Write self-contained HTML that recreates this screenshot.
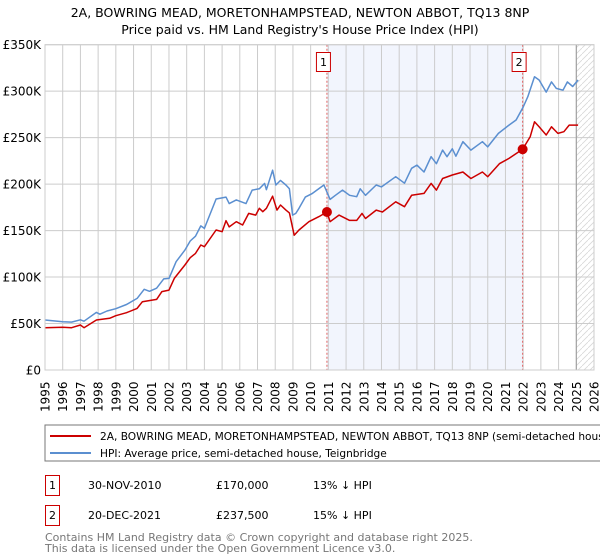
<!DOCTYPE html>
<html><head><meta charset="utf-8"><style>
body{margin:0;background:#fff;font-family:"DejaVu Sans","Liberation Sans",sans-serif;}
svg{display:block}
</style></head><body>
<svg id="c" width="600" height="560" xmlns="http://www.w3.org/2000/svg" font-family="DejaVu Sans, Liberation Sans, sans-serif">
<text x="300" y="17" text-anchor="middle" font-size="12.5">2A, BOWRING MEAD, MORETONHAMPSTEAD, NEWTON ABBOT, TQ13 8NP</text>
<text x="300" y="34" text-anchor="middle" font-size="12.5">Price paid vs. HM Land Registry's House Price Index (HPI)</text>
<g id="plot"></g>
<g>
<rect x="45" y="425" width="570" height="36" fill="#fff" stroke="#777"/>
<line x1="50" y1="436" x2="91" y2="436" stroke="#cc0000" stroke-width="2"/>
<text x="100" y="440" font-size="10.6">2A, BOWRING MEAD, MORETONHAMPSTEAD, NEWTON ABBOT, TQ13 8NP (semi-detached house)</text>
<line x1="50" y1="453" x2="91" y2="453" stroke="#5b8fd0" stroke-width="2"/>
<text x="100" y="457" font-size="10.6">HPI: Average price, semi-detached house, Teignbridge</text>
</g>
<g font-size="11">
<rect x="45.5" y="475.5" width="14" height="20" fill="#fff" stroke="#cc0000"/>
<text x="52.5" y="489" text-anchor="middle">1</text>
<text x="88" y="489">30-NOV-2010</text>
<text x="216" y="489">£170,000</text>
<text x="313" y="489">13% ↓ HPI</text>
<rect x="45.5" y="505.5" width="14" height="20" fill="#fff" stroke="#cc0000"/>
<text x="52.5" y="519" text-anchor="middle">2</text>
<text x="88" y="519">20-DEC-2021</text>
<text x="216" y="519">£237,500</text>
<text x="313" y="519">15% ↓ HPI</text>
</g>
<text x="45" y="541" font-size="11" fill="#777">Contains HM Land Registry data © Crown copyright and database right 2025.</text>
<text x="45" y="552" font-size="11" fill="#777">This data is licensed under the Open Government Licence v3.0.</text>
</svg>
<script>
const yTicks=[0,50,100,150,200,250,300,350];
const yTickLabels=["£0","£50K","£100K","£150K","£200K","£250K","£300K","£350K"];
const xYears=[1995,1996,1997,1998,1999,2000,2001,2002,2003,2004,2005,2006,2007,2008,2009,2010,2011,2012,2013,2014,2015,2016,2017,2018,2019,2020,2021,2022,2023,2024,2025,2026];
const hpiT=[1995,1996,1996.5,1997,1997.2,1997.9,1998.1,1998.5,1999,1999.6,2000.2,2000.6,2000.9,2001.3,2001.7,2002,2002.4,2002.9,2003.2,2003.5,2003.8,2004,2004.66,2005.22,2005.4,2005.8,2006.35,2006.7,2007.1,2007.4,2007.5,2007.85,2008.04,2008.3,2008.6,2008.8,2008.98,2009.16,2009.34,2009.7,2010.1,2010.75,2011.1,2011.4,2011.8,2012.2,2012.6,2012.8,2013.1,2013.7,2014,2014.8,2015.3,2015.7,2016,2016.4,2016.8,2017.1,2017.45,2017.7,2018,2018.2,2018.6,2019.05,2019.7,2020,2020.6,2021.2,2021.6,2022,2022.26,2022.64,2022.9,2023.3,2023.6,2023.87,2024.25,2024.5,2024.8,2025.1];
const hpiV=[53.8,52,51.5,54,52.5,62,60,63.5,66,70.5,77,86.8,84.7,88,98,98.6,116.5,129,138.8,144,155,152.4,184,186,179,183,179,193.6,195,200.8,194,215,199,204,199,195,166.7,168.5,174,186,190,199,183.6,188,193.6,188,186.5,195,188,199,197,208,201,217,220.5,213,229.5,222,236.6,229.5,238,230,245.6,236.6,245.6,240,254.6,263.5,269,283,294,315.5,312,299,310,303,301,310,305,312];
const propT=[1995,1996,1996.5,1997,1997.2,1997.9,1998.65,1999,1999.6,2000.2,2000.5,2001.3,2001.6,2002,2002.3,2002.9,2003.2,2003.5,2003.8,2004,2004.66,2005,2005.22,2005.4,2005.8,2006.16,2006.5,2006.9,2007.1,2007.3,2007.5,2007.85,2008.1,2008.3,2008.6,2008.8,2009.07,2009.34,2009.9,2010.47,2010.92,2011.1,2011.6,2012.2,2012.6,2012.9,2013.1,2013.7,2014.05,2014.8,2015.3,2015.7,2016.4,2016.8,2017.1,2017.45,2018,2018.6,2019.05,2019.7,2020,2020.66,2021.2,2021.97,2022.4,2022.64,2022.9,2023.3,2023.6,2023.96,2024.3,2024.6,2025.1];
const propV=[45.5,46,45.5,48.4,45.5,53.8,55.6,58.4,61.7,66.3,73.5,76,84.3,86,98.6,113,120.8,125.5,134.5,132.7,150.6,148.8,160.6,154,159.6,156,168.5,166.7,174,170.3,174,187,172,177.5,172,169,145,150.6,159.6,165,170,159.6,166.7,161,161,168.5,163,172,170,181,175.7,188,190,200.8,193.6,206,209.8,213,206,213,208,222,227.7,237.5,251,267,261.7,252.8,261.7,254.6,256.4,263.5,263.5];
const saleT=[2010.92,2021.97];
const saleV=[170,237.5];
const saleLabels=["1","2"];
const dataEnd=2025.0;

const NS="http://www.w3.org/2000/svg";
const X0=45,X1=594,Y0=370,Y1=44.7;
const xs=t=>X0+(t-1995)/(2026-1995)*(X1-X0);
const ys=v=>Y0-v/350*(Y0-Y1);
const g=document.getElementById('plot');
function mk(tag,attrs){const e=document.createElementNS(NS,tag);for(const k in attrs)e.setAttribute(k,attrs[k]);g.appendChild(e);return e;}

let e=mk('rect',{x:xs(saleT[0]),y:Y1,width:xs(saleT[1])-xs(saleT[0]),height:Y0-Y1,fill:'#eef2fc',opacity:0.75});


const defs=document.createElementNS(NS,'defs');
defs.innerHTML='<pattern id="h" patternUnits="userSpaceOnUse" width="6" height="6"><path d="M0,6 L6,0" stroke="#d8d8d8" stroke-width="0.8"/></pattern>';
g.appendChild(defs);
e=mk('rect',{x:xs(dataEnd),y:Y1,width:X1-xs(dataEnd),height:Y0-Y1,fill:'url(#h)'});



xYears.forEach(yr=>{
  const x=xs(yr);
  let l=mk('line',{x1:x,x2:x,y1:Y1,y2:Y0,stroke:'#ccc','stroke-width':1});
  
  
  let t=mk('text',{x:0,y:0,'font-size':12,transform:`translate(${x+4.5},${Y0+42}) rotate(-90)`});
  t.textContent=yr;
  
  
});
yTicks.forEach((v,i)=>{
  const y=ys(v);
  let l=mk('line',{x1:X0,x2:X1,y1:y,y2:y,stroke:'#ccc','stroke-width':1});
  
  
  let t=mk('text',{x:X0-4,y:y+4.5,'font-size':12,'text-anchor':'end'});
  t.textContent=yTickLabels[i];
  
  
});
e=mk('line',{x1:xs(dataEnd),x2:xs(dataEnd),y1:Y1,y2:Y0,stroke:'#999','stroke-width':1});



saleT.forEach((t,i)=>{
  const x=xs(t);
  let l=mk('line',{x1:x,x2:x,y1:Y1,y2:Y0,stroke:'#e06060','stroke-width':1,'stroke-dasharray':'2,2'});
  
  
  let r=mk('rect',{x:x-10.5,y:52.5,width:14,height:19,fill:'#fff',stroke:'#cc0000'});
  
  
  let tx=mk('text',{x:x-3.5,y:66,'font-size':11,'text-anchor':'middle'});
  tx.textContent=saleLabels[i];
  
  
});

function line(T,V,col,name){
  const p=mk('path',{d:T.map((t,i)=>(i?'L':'M')+xs(t).toFixed(1)+','+ys(V[i]).toFixed(1)).join(''),fill:'none',stroke:col,'stroke-width':1.5,'stroke-linejoin':'round'});
  
  
}
line(hpiT,hpiV,'#5b8fd0','hpi-line');
line(propT,propV,'#cc0000','property-price-line');
saleT.forEach((t,i)=>{
  const c=mk('circle',{cx:xs(t),cy:ys(saleV[i]),r:5,fill:'#cc0000'});
  
  
});
e=mk('rect',{x:X0,y:Y1,width:X1-X0,height:Y0-Y1,fill:'none',stroke:'#ccc'});


</script>
</body></html>
